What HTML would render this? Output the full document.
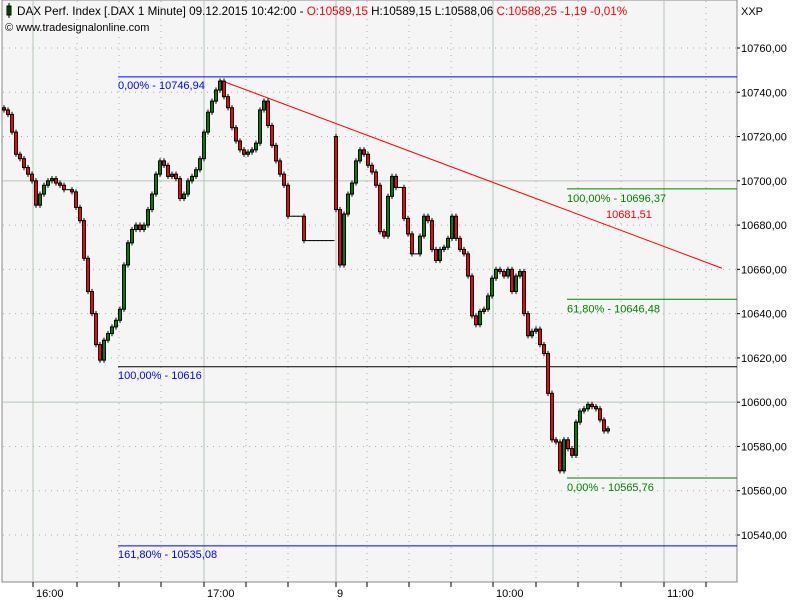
<!DOCTYPE html>
<html><head><meta charset="utf-8"><style>
body{margin:0;background:#fff;font-family:"Liberation Sans",sans-serif;}
svg{display:block}
</style></head><body>
<svg id="chart" width="800" height="600" xmlns="http://www.w3.org/2000/svg" font-family="Liberation Sans, sans-serif">
<rect x="0" y="0" width="800" height="600" fill="#fff"/>
<rect x="2" y="0" width="735" height="582" fill="#f5f5f5" stroke="#888" stroke-width="1"/>
<g id="grid"></g>
<g id="fib"></g>
<g id="candles"></g>
<g id="axes"></g>
<g>
<rect x="7" y="6" width="4" height="9" fill="#008000" stroke="#000" stroke-width="1"/>
<line x1="9" y1="3" x2="9" y2="18" stroke="#000"/>
<text x="17" y="15" font-size="11.7" fill="#000">DAX Perf. Index [.DAX  1 Minute] 09.12.2015 10:42:00 - <tspan fill="#ff0000">O:10589,15</tspan> H:10589,15 L:10588,06 <tspan fill="#ff0000">C:10588,25 -1,19 -0,01%</tspan></text>
<text x="5" y="31" font-size="11" fill="#000">© www.tradesignalonline.com</text>
</g>
</svg>
<script>
const closes=[10732,10730,10722,10712,10710,10706,10703,10700,10689,10694,10698,10700,10701,10699,10698,10696,10696,10695,10688,10682,10665,10650,10640,10626,10619,10628,10631,10634,10637,10642,10662,10672,10678,10680,10678,10680,10687,10694,10703,10709,10707,10702,10703,10701,10692,10694,10700,10702,10705,10710,10722,10731,10736,10741,10745,10738,10733,10724,10718,10714,10712,10713,10714,10717,10732,10736,10725,10716,10709,10703,10698,10684,10684,10684,10684,10673,10673,10673,10673,10673,10673,10673,10673,10687,10662,10685,10694,10699,10709,10714,10712,10707,10704,10698,10677,10675,10693,10702,10697,10697,10683,10676,10667,10667,10675,10684,10682,10669,10664,10669,10670,10674,10684,10674,10669,10667,10657,10639,10635,10641,10642,10648,10656,10660,10659,10657,10660,10650,10657,10659,10640,10630,10632,10633,10626,10622,10604,10583,10582,10569,10583,10579,10576,10591,10596,10597,10599,10598,10597,10592,10587,10588];
const firstOpen=10733;
const gapOpens={83:10720};
const yTicks=[10760,10740,10720,10700,10680,10660,10640,10620,10600,10580,10560,10540];
const xLabels=["16:00","17:00","9","10:00","11:00"];
const xLabelPos=[33,204,336,493,664];
const fibBlue=[10746.94,10616,10535.08];
const fibBlueLabels=["0,00% - 10746,94","100,00% - 10616","161,80% - 10535,08"];
const fibGreen=[10696.37,10646.48,10565.76];
const fibGreenLabels=["100,00% - 10696,37","61,80% - 10646,48","0,00% - 10565,76"];
const trend=[10745.5,10660.5];
const NS="http://www.w3.org/2000/svg";
const Y=p=>48+(10760-p)*2.2136;
const X=i=>4+4*i;
function mk(tag,attrs,parent,txt){const e=document.createElementNS(NS,tag);for(const k in attrs)e.setAttribute(k,attrs[k]);if(txt!==undefined)e.textContent=txt;parent.appendChild(e);return e;}
const grid=document.getElementById('grid'),fib=document.getElementById('fib'),cg=document.getElementById('candles'),ax=document.getElementById('axes');
yTicks.forEach(v=>{const solid=(v===10700||v===10600);
 const l=mk('line',{x1:3,x2:736,y1:Y(v),y2:Y(v),stroke:solid?'#b4c8b4':'#aaa','stroke-dasharray':solid?'':'1,5'},grid);
 
 
 const t=mk('text',{x:741,y:Y(v)+4,'font-size':11,fill:'#000'},ax,v+',00');
 
 
 mk('line',{x1:737,x2:740,y1:Y(v),y2:Y(v),stroke:'#000'},ax);
});
const xt=mk('text',{x:741,y:15,'font-size':11,fill:'#000'},ax,'XXP');


const dotted=[77,119,161,246,288,367,409,451,536,578,621,706];
dotted.forEach(x=>{mk('line',{x1:x,x2:x,y1:1,y2:581,stroke:'#aaa','stroke-dasharray':'1,5'},grid);mk('line',{x1:x,x2:x,y1:582,y2:587,stroke:'#000'},ax);});
xLabelPos.forEach((x,i)=>{mk('line',{x1:x,x2:x,y1:1,y2:581,stroke:'#b4c8b4'},grid);mk('line',{x1:x,x2:x,y1:582,y2:587,stroke:'#000'},ax);
 const t=mk('text',{x:x+(xLabels[i].length>1?3:1),y:597,'font-size':11,fill:'#000'},ax,xLabels[i]);
 
 
});
const blueColors=['#0000ff','#000','#0000ff'];
fibBlue.forEach((v,i)=>{const l=mk('line',{x1:118,x2:737,y1:Y(v),y2:Y(v),stroke:blueColors[i]},fib);
 
 
 const t=mk('text',{x:118,y:Y(v)+12,'font-size':11,fill:'#0000ff'},fib,fibBlueLabels[i]);
 
 
});
fibGreen.forEach((v,i)=>{const l=mk('line',{x1:567,x2:737,y1:Y(v),y2:Y(v),stroke:'#008000'},fib);
 
 
 const t=mk('text',{x:567,y:Y(v)+13,'font-size':11,fill:'#008000'},fib,fibGreenLabels[i]);
 
 
});
const tl=mk('line',{x1:220,y1:Y(trend[0]),x2:722,y2:Y(trend[1]),stroke:'#ff0000'},fib);


const tv=mk('text',{x:606,y:218,'font-size':11,fill:'#ff0000'},fib,'10681,51');


let prev=firstOpen;
closes.forEach((c,i)=>{
 const o=(gapOpens[i]!==undefined)?gapOpens[i]:prev; prev=c;
 const x=X(i);
 const g=mk('g',{},cg);
 
 
 if(Math.abs(o-c)<0.3){
  mk('line',{x1:x-2.5,x2:x+2.5,y1:Y(c),y2:Y(c),stroke:'#000'},g);
 } else {
  const hi=Math.max(o,c)+1.2, lo=Math.min(o,c)-1.2;
  mk('line',{x1:x,x2:x,y1:Y(hi),y2:Y(lo),stroke:'#000'},g);
  const top=Y(Math.max(o,c)),bot=Y(Math.min(o,c));
  mk('rect',{x:x-1.5,y:top,width:3,height:Math.max(1,bot-top),fill:c>o?'#008000':'#ff0000',stroke:'#000','stroke-width':1},g);
 }
});
</script>
</body></html>
